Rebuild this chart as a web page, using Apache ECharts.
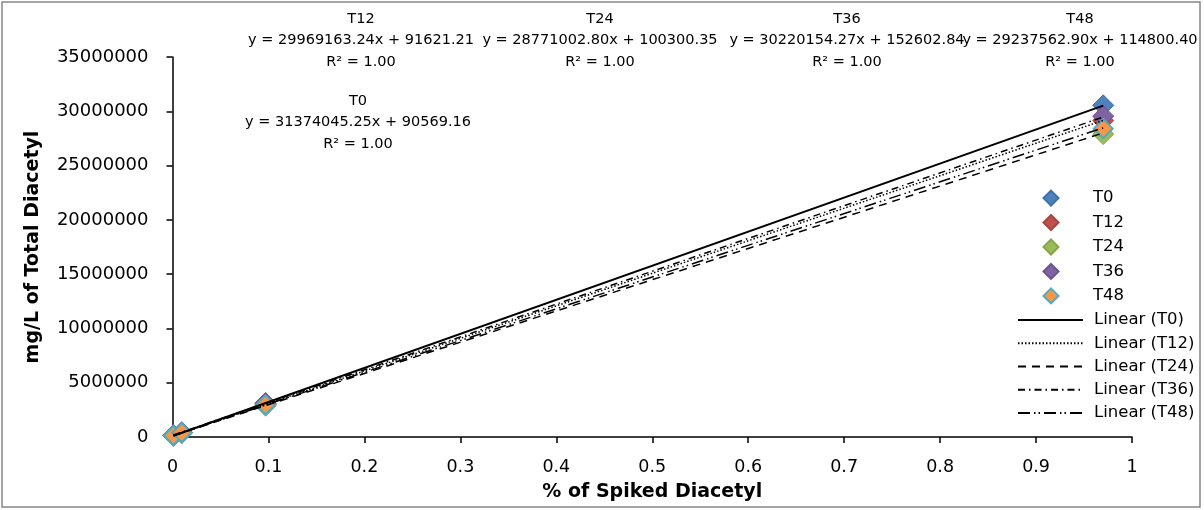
<!DOCTYPE html>
<html>
<head>
<meta charset="utf-8">
<script src="https://cdn.jsdelivr.net/npm/echarts@6/dist/echarts.min.js"></script>
<style>
html,body{margin:0;padding:0;background:#fff;}
#chart{width:1204px;height:510px;}
</style>
</head>
<body>
<div id="chart"></div>
<script>
// ---- data ----
const seriesNames = ['T0', 'T12', 'T24', 'T36', 'T48'];
const spikedX = [0.00097, 0.0097, 0.097, 0.97];
const valuesT0  = [120000, 400000, 3130000, 30550000];
const valuesT12 = [115000, 380000, 2990000, 29150000];
const valuesT24 = [125000, 375000, 2880000, 27900000];
const valuesT36 = [180000, 440000, 3080000, 29550000];
const valuesT48 = [140000, 400000, 2960000, 28400000];
const slopes     = [31374045.25, 29969163.24, 28771002.80, 30220154.27, 29237562.90];
const intercepts = [90569.16, 91621.21, 100300.35, 152602.84, 114800.40];
const rSquared   = ['1.00', '1.00', '1.00', '1.00', '1.00'];
const yTickLabels = ['0','5000000','10000000','15000000','20000000','25000000','30000000','35000000'];
const xTickLabels = ['0','0.1','0.2','0.3','0.4','0.5','0.6','0.7','0.8','0.9','1'];

const allValues = [valuesT0, valuesT12, valuesT24, valuesT36, valuesT48];

// ---- styles ----
const FONT = 'DejaVu Sans';
const fills   = ['#4F81BD', '#C0504D', '#9BBB59', '#8064A2', '#F79646'];
const borders = ['#3F6FA8', '#A84440', '#86A648', '#6C5290', '#4BACC6'];
const borderW = [1, 1, 1, 1, 2];
const dashes = ['solid', [1.5, 2], [8, 6], [7, 4, 1.5, 4], [12, 4, 1.5, 3, 1.5, 4]];
const lineW = [2, 1.5, 1.5, 1.5, 1.5];
const trendNames = seriesNames.map(n => 'Linear (' + n + ')');

const series = [];
seriesNames.forEach((n, i) => {
  series.push({
    name: n,
    type: 'scatter',
    symbol: 'diamond',
    symbolSize: i === 4 ? 19 : 21,
    z: 2,
    itemStyle: { color: fills[i], borderColor: borders[i], borderWidth: borderW[i], opacity: 1 },
    data: spikedX.map((x, k) => [x, allValues[i][k]])
  });
});
seriesNames.forEach((n, i) => {
  const x0 = Math.min(...spikedX), x1 = Math.max(...spikedX);
  series.push({
    name: trendNames[i],
    type: 'line',
    symbol: 'none',
    showSymbol: false,
    z: 3,
    silent: true,
    lineStyle: { color: '#000', width: lineW[i], type: dashes[i] },
    itemStyle: { color: 'rgba(0,0,0,0)', borderWidth: 0, opacity: 0 },
    data: [[x0, slopes[i] * x0 + intercepts[i]], [x1, slopes[i] * x1 + intercepts[i]]]
  });
});

// equation labels (Excel trendline labels)
const fmt2 = v => v.toFixed(2);
const labelPos = [
  { cx: 358, y: 101 },  // T0
  { cx: 361, y: 19 },   // T12
  { cx: 600, y: 19 },   // T24
  { cx: 847, y: 19 },   // T36
  { cx: 1080, y: 19 }   // T48
];
const graphics = [{
  type: 'rect', silent: true, z: 0,
  shape: { x: 2, y: 2, width: 1198, height: 505 },
  style: { fill: 'none', stroke: '#878787', lineWidth: 1.5 }
}];
seriesNames.forEach((n, i) => {
  const lines = [n, 'y = ' + fmt2(slopes[i]) + 'x + ' + fmt2(intercepts[i]), 'R\u00B2 = ' + rSquared[i]];
  lines.forEach((t, k) => {
    graphics.push({
      type: 'text', silent: true, z: 10,
      x: labelPos[i].cx, y: labelPos[i].y + k * 21.5,
      style: { text: t, fontSize: 14.5, fontFamily: FONT, fill: '#000', align: 'center', verticalAlign: 'middle' }
    });
  });
});

const chart = echarts.init(document.getElementById('chart'), null, { renderer: 'canvas' });
chart.setOption({
  animation: false,
  backgroundColor: '#fff',
  textStyle: { fontFamily: FONT },
  grid: { left: 172.5, right: 72, top: 57, bottom: 73, containLabel: false },
  legend: [{
    orient: 'vertical',
    left: 1042.5,
    top: 189.6,
    padding: 0,
    itemWidth: 15,
    itemHeight: 15,
    itemGap: 7.45,
    selectedMode: false,
    textStyle: { fontFamily: FONT, fontSize: 16.5, color: '#000', padding: [0, 0, 0, 29.5] },
    data: seriesNames.map(n => ({ name: n, icon: 'diamond' }))
  }, {
    orient: 'vertical',
    left: 1017,
    top: 311.6,
    padding: 0,
    itemWidth: 65,
    itemHeight: 13,
    itemGap: 6.2,
    selectedMode: false,
    textStyle: { fontFamily: FONT, fontSize: 16.5, color: '#000', padding: [0, 0, 0, 6] },
    data: trendNames
  }],
  xAxis: {
    type: 'value', min: 0, max: 1, interval: 0.1,
    name: '% of Spiked Diacetyl', nameLocation: 'middle', nameGap: 46,
    nameTextStyle: { fontFamily: FONT, fontSize: 19, fontWeight: 'bold', color: '#000' },
    axisLine: { show: true, onZero: false, lineStyle: { color: '#000', width: 1.5 } },
    axisTick: { show: true, length: 6, lineStyle: { color: '#000', width: 1.5 } },
    splitLine: { show: false },
    axisLabel: {
      fontFamily: FONT, fontSize: 17.5, color: '#000', margin: 21,
      formatter: (v) => xTickLabels[Math.round(v * 10)]
    }
  },
  yAxis: {
    type: 'value', min: 0, max: 35000000, interval: 5000000,
    name: 'mg/L of Total Diacetyl', nameLocation: 'middle', nameGap: 130, nameRotate: 90,
    nameTextStyle: { fontFamily: FONT, fontSize: 19, fontWeight: 'bold', color: '#000' },
    axisLine: { show: true, lineStyle: { color: '#000', width: 1.5 } },
    axisTick: { show: true, length: 6, lineStyle: { color: '#000', width: 1.5 } },
    splitLine: { show: false },
    axisLabel: {
      fontFamily: FONT, fontSize: 18, color: '#000', margin: 24,
      formatter: (v) => yTickLabels[Math.round(v / 5000000)]
    }
  },
  graphic: graphics,
  series: series
});
</script>
</body>
</html>
